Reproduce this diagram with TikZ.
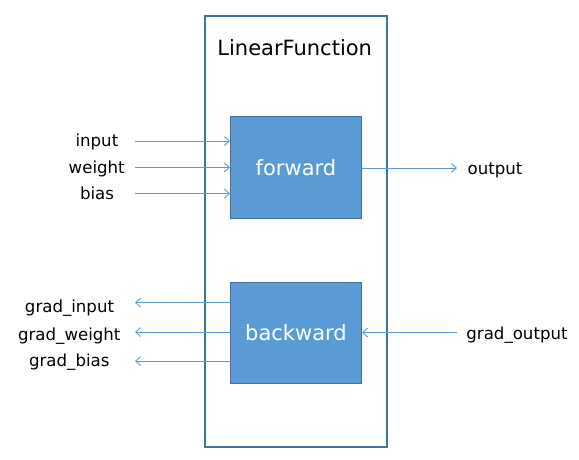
\documentclass[tikz,border=0pt]{standalone}
\usepackage{fontspec}
\setmainfont{DejaVu Sans}
\usetikzlibrary{arrows.meta}
\definecolor{boxfill}{HTML}{5B9BD5}
\definecolor{boxline}{HTML}{41719C}
\definecolor{outerline}{HTML}{41719C}
\definecolor{arrcol}{HTML}{5B9BD5}
\tikzset{
  fnbox/.style={draw=outerline, line width=2pt, fill=white, rectangle, inner sep=0pt,
    minimum width=182pt, minimum height=431pt},
  opbox/.style={draw=boxline, line width=1pt, fill=boxfill, rectangle, inner sep=0pt,
    minimum width=131pt, minimum height=101.5pt, text=white, font=\fontsize{21}{25}\selectfont},
  lbl/.style={anchor=base, inner sep=0pt, font=\fontsize{16.6}{19}\selectfont},
  title/.style={anchor=base, inner sep=0pt, font=\fontsize{21}{24}\selectfont},
  arr/.style={draw=arrcol, line width=0.9pt, -{Straight Barb[length=5pt,width=9pt]}}
}
\begin{document}
\begin{tikzpicture}[x=1pt,y=-1pt]
\useasboundingbox (0,0) rectangle (579,459);
\node[fnbox] (fn) at (296,231.5) {};
\node[title] (ttl) at (294.7,55) {LinearFunction};
\node[opbox] (fwd) at (296,167.5) {forward};
\node[opbox] (bwd) at (296,332.8) {backward};
% labels
\node[lbl] (lin) at (96.9,146.7) {input};
\node[lbl] (lw) at (96.7,173.3) {weight};
\node[lbl] (lb) at (97,199) {bias};
\node[lbl] (lout) at (495,174) {output};
\node[lbl] (lgi) at (69.5,312.7) {grad\_input};
\node[lbl] (lgw) at (69.3,340.7) {grad\_weight};
\node[lbl] (lgb) at (69.3,366.7) {grad\_bias};
\node[lbl] (lgo) at (517,339) {grad\_output};
% free ends
\coordinate (cin) at (135,141);
\coordinate (cw) at (135,167.5);
\coordinate (cb) at (135,193.5);
\coordinate (cout) at (457,168);
\coordinate (cgi) at (135,302.7);
\coordinate (cgw) at (135,332);
\coordinate (cgb) at (135,361);
\coordinate (cgo) at (457,332.5);
% arrows
\draw[arr] (cin) -- (cin -| fwd.west);
\draw[arr] (cw) -- (cw -| fwd.west);
\draw[arr] (cb) -- (cb -| fwd.west);
\draw[arr] (cout -| fwd.east) -- (cout);
\draw[arr] (cgi -| bwd.west) -- (cgi);
\draw[arr] (cgw -| bwd.west) -- (cgw);
\draw[arr] (cgb -| bwd.west) -- (cgb);
\draw[arr] (cgo) -- (cgo -| bwd.east);
\end{tikzpicture}
\end{document}
